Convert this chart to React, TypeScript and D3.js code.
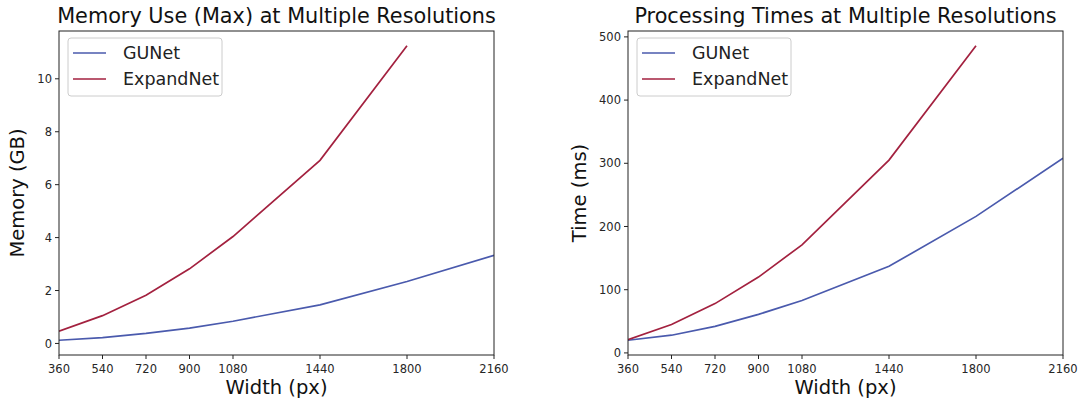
import React from "react";
import * as d3 from "d3";

const widths = [360, 540, 720, 900, 1080, 1440, 1800, 2160];
const xTicks = [360, 540, 720, 900, 1080, 1440, 1800, 2160];

const memGUNet = [0.12, 0.22, 0.38, 0.58, 0.84, 1.46, 2.34, 3.33];
const memExpandNet = [0.46, 1.05, 1.82, 2.82, 4.04, 6.92, 11.25];
const memTicks = [0, 2, 4, 6, 8, 10];

const timeGUNet = [20, 28, 42, 61, 83, 137, 216, 308];
const timeExpandNet = [21, 45, 78, 120, 171, 305, 486];
const timeTicks = [0, 100, 200, 300, 400, 500];

const seriesNames = ["GUNet", "ExpandNet"];
const seriesColors = ["#4a5aad", "#a3213f"];

const FONT = "DejaVu Sans, sans-serif";

type PanelProps = {
  left: number;
  right: number;
  top: number;
  bottom: number;
  title: string;
  yLabel: string;
  yLabelX: number;
  series: number[][];
  yTicks: number[];
};

function Panel({ left, right, top, bottom, title, yLabel, yLabelX, series, yTicks }: PanelProps) {
  const all = series.flat();
  const lo = d3.min(all) as number;
  const hi = d3.max(all) as number;
  const pad = (hi - lo) * 0.05;
  const x = d3.scaleLinear().domain([360, 2160]).range([left, right]);
  const y = d3.scaleLinear().domain([lo - pad, hi + pad]).range([bottom, top]);
  const line = d3
    .line<number>()
    .x((_, i) => x(widths[i]))
    .y((d) => y(d));
  const cx = (left + right) / 2;
  const cy = (top + bottom) / 2;
  const legX = left + 9;
  const legY = top + 7;
  return (
    <g>
      <defs>
        <clipPath id={`clip-${Math.round(left)}`}>
          <rect x={left} y={top} width={right - left} height={bottom - top} />
        </clipPath>
      </defs>
      <g clipPath={`url(#clip-${Math.round(left)})`}>
        {series.map((s, i) => (
          <path key={i} d={line(s) || ""} fill="none" stroke={seriesColors[i]} strokeWidth={1.7} />
        ))}
      </g>
      <rect x={left} y={top} width={right - left} height={bottom - top} fill="none" stroke="#222" strokeWidth={1} />
      {xTicks.map((t) => (
        <g key={t}>
          <line x1={x(t)} x2={x(t)} y1={bottom} y2={bottom + 4} stroke="#222" />
          <text x={x(t)} y={bottom + 18} textAnchor="middle" fontSize={11.5} fontFamily={FONT} fill="#262626">
            {t}
          </text>
        </g>
      ))}
      {yTicks.map((t) => (
        <g key={t}>
          <line x1={left - 4} x2={left} y1={y(t)} y2={y(t)} stroke="#222" />
          <text x={left - 7} y={y(t) + 4.2} textAnchor="end" fontSize={11.5} fontFamily={FONT} fill="#262626">
            {t}
          </text>
        </g>
      ))}
      <text x={cx} y={23} textAnchor="middle" fontSize={20.8} fontFamily={FONT} fill="#111">
        {title}
      </text>
      <text x={cx} y={394} textAnchor="middle" fontSize={19.5} fontFamily={FONT} fill="#111">
        Width (px)
      </text>
      <text
        transform={`translate(${yLabelX},${cy}) rotate(-90)`}
        textAnchor="middle"
        fontSize={19.5}
        fontFamily={FONT}
        fill="#111"
      >
        {yLabel}
      </text>
      <rect x={legX} y={legY} width={154} height={58} rx={3} fill="#fff" fillOpacity={0.8} stroke="#cccccc" />
      {seriesNames.map((n, i) => (
        <g key={n}>
          <line
            x1={legX + 5}
            x2={legX + 38}
            y1={legY + 15 + i * 26}
            y2={legY + 15 + i * 26}
            stroke={seriesColors[i]}
            strokeWidth={1.7}
          />
          <text x={legX + 55} y={legY + 21.3 + i * 26} fontSize={17.5} fontFamily={FONT} fill="#222">
            {n}
          </text>
        </g>
      ))}
    </g>
  );
}

export default function App() {
  return (
    <svg
      width={1081}
      height={404}
      style={{ position: "absolute", left: 0, top: 0, background: "#fff" }}
    >
      <rect x={0} y={0} width={1081} height={404} fill="#fff" />
      <Panel
        left={59}
        right={494}
        top={31}
        bottom={355}
        title="Memory Use (Max) at Multiple Resolutions"
        yLabel="Memory (GB)"
        yLabelX={24}
        series={[memGUNet, memExpandNet]}
        yTicks={memTicks}
      />
      <Panel
        left={628}
        right={1063}
        top={31}
        bottom={355}
        title="Processing Times at Multiple Resolutions"
        yLabel="Time (ms)"
        yLabelX={586}
        series={[timeGUNet, timeExpandNet]}
        yTicks={timeTicks}
      />
    </svg>
  );
}
